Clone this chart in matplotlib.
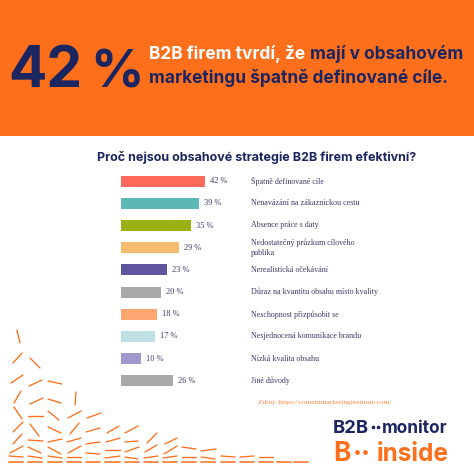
import matplotlib
matplotlib.use("Agg")
import matplotlib.pyplot as plt
from matplotlib.patches import Rectangle

ORANGE = "#fd6f1b"
NAVY = "#1b2560"
TEXT = "#3d3a66"
SANS = "Inter"
SERIF = "Liberation Serif"

categories = [
    "Špatně definované cíle",
    "Nenavázání na zákaznickou cestu",
    "Absence práce s daty",
    "Nedostatečný průzkum cílového\npublika",
    "Nerealistická očekávání",
    "Důraz na kvantitu obsahu místo kvality",
    "Neschopnost přizpůsobit se",
    "Nesjednocená komunikace brandu",
    "Nízká kvalita obsahu",
    "Jiné důvody",
]
values = [42, 39, 35, 29, 23, 20, 18, 17, 10, 26]
colors = ["#fd6a5b", "#5fb6b6", "#9bb013", "#f5bb6e", "#5f559f",
          "#a9a9a9", "#fea671", "#bfe1e5", "#a097cd", "#a9a9a9"]

# decorative arrows in the bottom left corner, pixels (x0, y0, x1, y1)
arrows = [
    (17, 330, 20, 343), (22, 353, 13, 363), (30, 358, 40, 368),
    (23, 375, 11, 383), (29, 386, 42, 380), (48, 381, 62, 384),
    (21, 391, 14, 403), (30, 404, 43, 398), (48, 399, 61, 403),
    (76, 392, 75, 405), (14, 407, 22, 419), (28, 416, 43, 416),
    (48, 411, 59, 420), (68, 418, 81, 411), (87, 418, 101, 413),
    (23, 422, 13, 432), (30, 424, 39, 436), (48, 427, 61, 433),
    (70, 434, 79, 423), (86, 432, 100, 428), (107, 433, 119, 426),
    (22, 434, 13, 444), (28, 440, 43, 441), (48, 442, 62, 439),
    (67, 442, 81, 438), (86, 444, 100, 442), (106, 442, 120, 438),
    (10, 453, 23, 446), (28, 447, 41, 453), (48, 447, 61, 454),
    (68, 453, 81, 446), (86, 453, 100, 454), (105, 450, 120, 450),
    (9, 456, 23, 457), (28, 456, 42, 458), (48, 456, 62, 458),
    (67, 457, 81, 457), (105, 458, 120, 456), (125, 433, 138, 426),
    (147, 443, 157, 433), (165, 444, 177, 438), (125, 442, 138, 441),
    (125, 452, 139, 447), (145, 452, 157, 445), (164, 454, 177, 446),
    (182, 447, 196, 449), (201, 451, 216, 449), (125, 457, 138, 459),
    (144, 458, 158, 456), (163, 458, 177, 456), (182, 457, 196, 457),
    (201, 457, 215, 459), (221, 456, 235, 457), (240, 457, 254, 456),
    (259, 457, 273, 457),
]
bottom_arrows = [(9, 23), (28, 42), (48, 62), (67, 81), (86, 100), (105, 120),
                 (125, 139), (144, 158), (163, 177), (182, 196), (201, 215),
                 (221, 235), (240, 254), (259, 273), (277, 291), (294, 308)]

fig = plt.figure(figsize=(4.74, 4.74), dpi=100)

# overlay in pixel coordinates for everything around the bars
bg = fig.add_axes([0, 0, 1, 1])
bg.set_xlim(0, 474)
bg.set_ylim(474, 0)
bg.axis("off")
bg.add_patch(Rectangle((0, 0), 474, 136, color=ORANGE, lw=0))

bg.text(8, 87, "42", family=SANS, weight="bold", fontsize=41, color=NAVY, va="baseline")
bg.text(90, 87, "%", family=SANS, weight="bold", fontsize=38, color=NAVY, va="baseline")
t = bg.text(149, 59, "B2B firem tvrdí, že ", family=SANS, weight="bold", fontsize=12.45,
            color="white", va="baseline")
fig.canvas.draw()
box = t.get_window_extent()
bg.text(box.x1 + 1, 59, "mají v obsahovém", family=SANS, weight="bold", fontsize=12.45,
        color=NAVY, va="baseline")
bg.text(149, 83, "marketingu špatně definované cíle.", family=SANS, weight="bold",
        fontsize=12.45, color=NAVY, va="baseline")
bg.text(97, 161, "Proč nejsou obsahové strategie B2B firem efektivní?", family=SANS,
        weight="bold", fontsize=9, color=NAVY, va="baseline")

for x0, y0, x1, y1 in arrows:
    bg.plot([x0, x1], [y0, y1], color=ORANGE, lw=0.95, solid_capstyle="round")
for x0, x1 in bottom_arrows:
    bg.plot([x0, x1], [462, 462], color=ORANGE, lw=1.1)

bg.text(258, 404, "Zdroj: https://contentmarketinginstitute.com/", family=SERIF,
        fontsize=5.3, color="#f98a48", va="baseline")

bg.text(333, 433, "B2B", family=SANS, weight="bold", fontsize=13.3, color=NAVY, va="baseline")
bg.text(382, 433, "monitor", family=SANS, weight="bold", fontsize=12.4, color=NAVY, va="baseline")
bg.plot([373, 378], [427, 427], ls="none", marker="o", ms=1.6, color=NAVY)
bg.text(333, 461, "B", family=SANS, weight="bold", fontsize=19, color=ORANGE, va="baseline")
bg.text(377, 461, "inside", family=SANS, weight="bold", fontsize=17.5, color=ORANGE, va="baseline")
bg.plot([357, 365], [452, 452], ls="none", marker="o", ms=2.4, color=ORANGE)

for i, cat in enumerate(categories):
    bg.text(251, 181 + 22.2 * i, cat, family=SERIF, fontsize=5.75, color=TEXT,
            va="center", linespacing=1.35)

# bars, 2 px per percent
ax = fig.add_axes([121 / 474, 1 - 392 / 474, 100 / 474, 222 / 474])
ax.patch.set_alpha(0)
ax.barh(range(len(values)), values, height=0.5, color=colors)
ax.set_xlim(0, 50)
ax.set_ylim(len(values) - 0.5, -0.5)
ax.axis("off")
for i, v in enumerate(values):
    ax.annotate(f"{v} %", (v, i), xytext=(3.8, 0), textcoords="offset points", va="center",
                family=SERIF, fontsize=6, color=TEXT, annotation_clip=False)

fig.savefig("out.png", dpi=100)
